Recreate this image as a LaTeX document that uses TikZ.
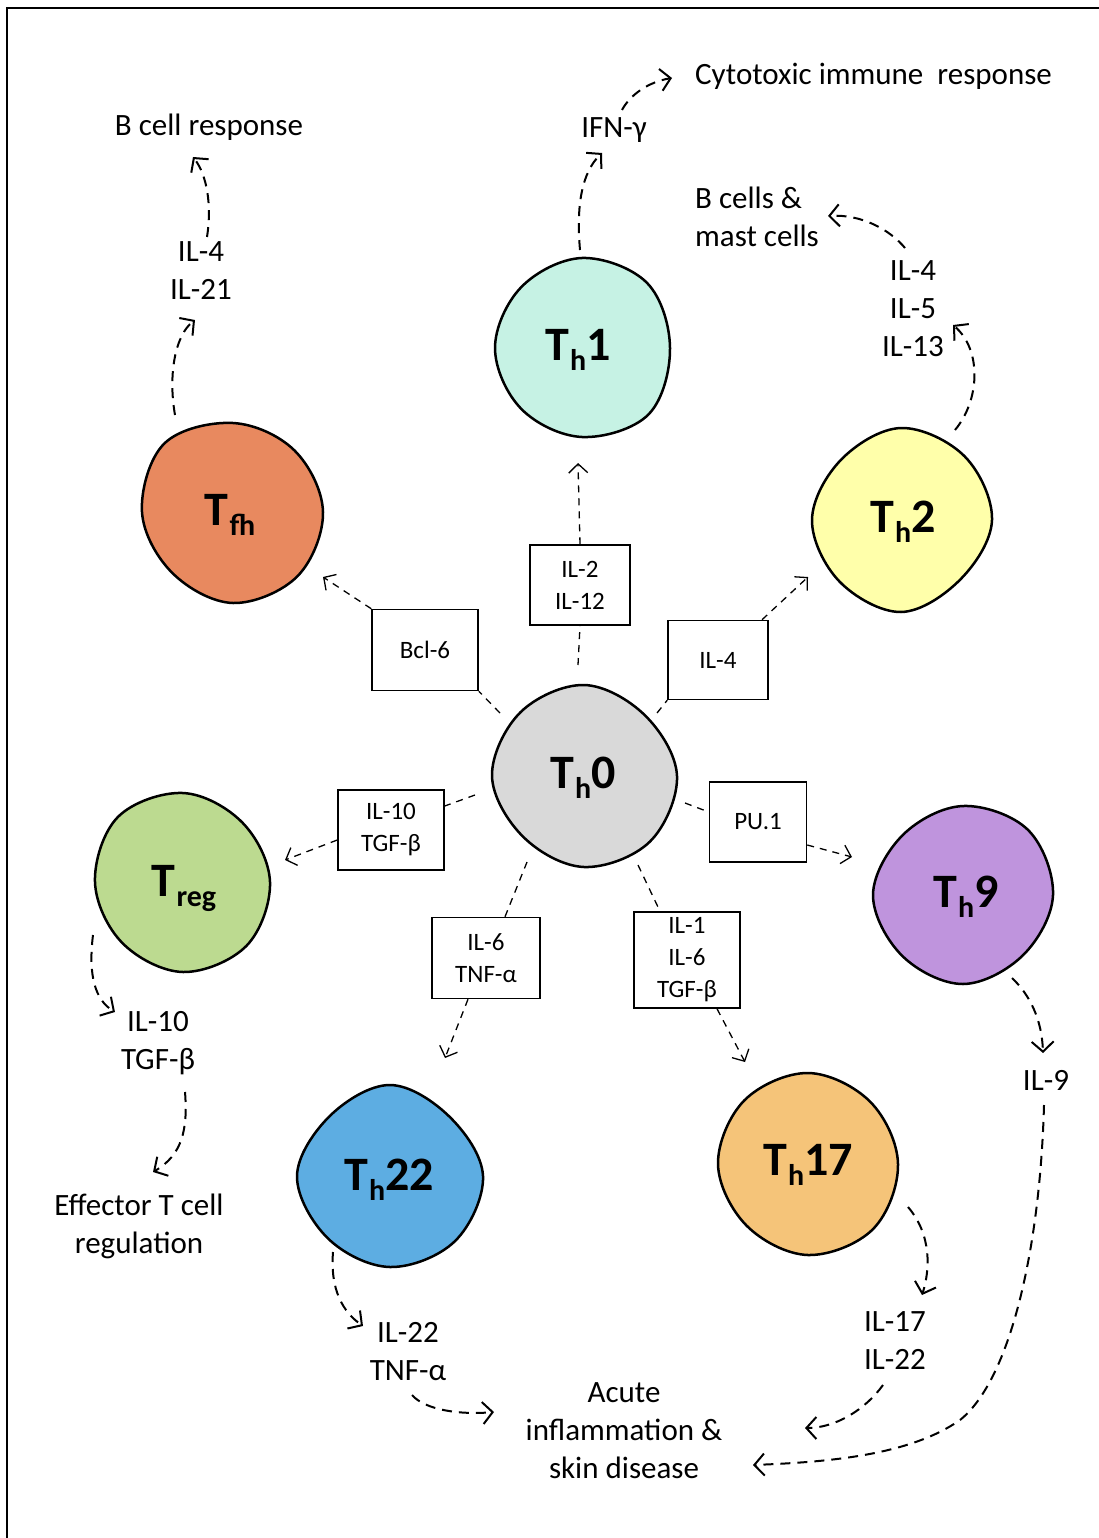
\documentclass[tikz,border=0pt]{standalone}
\usepackage{fontspec}
\setmainfont{Carlito}
\usetikzlibrary{arrows.meta}
\definecolor{cgray}{HTML}{D9D9D9}
\definecolor{cmint}{HTML}{C6F2E4}
\definecolor{cfh}{HTML}{E8895F}
\definecolor{cyel}{HTML}{FFFFAA}
\definecolor{cgreen}{HTML}{BCDA90}
\definecolor{cpurple}{HTML}{BF94DD}
\definecolor{cblue}{HTML}{5DADE2}
\definecolor{corange}{HTML}{F5C479}
\newcommand\csub[1]{\kern1pt\raisebox{-10pt}{\fontsize{30}{30}\selectfont #1}}
\tikzset{
  lbl/.style={font=\fontsize{31}{38}\selectfont, align=center, inner sep=0pt},
  bx/.style={draw, line width=1.5pt, font=\fontsize{25}{32}\selectfont, align=center, inner sep=0pt},
  cellt/.style={font=\fontsize{48}{48}\selectfont\bfseries, inner sep=0pt},
  dl/.style={dash pattern=on 7pt off 6pt, line width=1.3pt},
  ar/.style={dl, -{Straight Barb[length=9pt,width=19pt,line width=1.3pt]}},
  oar/.style={dash pattern=on 10pt off 7pt, line width=2pt, -{Straight Barb[length=10pt,width=22pt,line width=2pt]}},
  blob/.style={line width=2.5pt, draw=black}
}
% radii: E SE S SW W NW N NE (y axis points down)
\newcommand\blob[3]{%
  \def\pts{}%
  \foreach \r [count=\i from 0] in {#3} {\xdef\pts{\pts (\i*45:\r)}}%
  \filldraw[blob, fill=#2, shift={(#1)}] plot[smooth cycle, tension=0.6] coordinates {\pts};}
\begin{document}
\begin{tikzpicture}[x=1pt,y=-1pt]
\useasboundingbox (0,0) rectangle (1098,1538);
\fill[white] (0,0) rectangle (1098,1538);
\draw[line width=2.5pt] (7,1545) -- (7,8) -- (1105,8);

% cells
\blob{584,776}{cgray}{93,93,91,86,92,90,91,86}
\blob{582,348}{cmint}{88,94,89,86,87,86,90,92}
\blob{233,512}{cfh}{90,91,91,86,91,97,89,87}
\blob{901,520}{cyel}{91,84,92,87,89,85,92,90}
\blob{183,882}{cgreen}{87,90,90,86,88,92,89,84}
\blob{963,895}{cpurple}{90,85,89,86,90,85,89,92}
\blob{390,1176}{cblue}{93,92,91,88,93,85,91,84}
\blob{808,1164}{corange}{90,92,91,87,90,90,91,88}

\node[cellt] (th0) at (583,778) {T\csub{h}0};
\node[cellt] (th1) at (578,350) {T\csub{h}1};
\node[cellt] (tfh) at (230,515) {T\csub{fh}};
\node[cellt] (th2) at (903,522) {T\csub{h}2};
\node[cellt] (treg) at (184,888) {T\csub{reg}};
\node[cellt] (th9) at (966,897) {T\csub{h}9};
\node[cellt] (th22) at (389,1180) {T\csub{h}22};
\node[cellt] (th17) at (808,1165) {T\csub{h}17};

% boxes
\node[bx, minimum width=106pt, minimum height=81pt] (bcl) at (425,650) {Bcl-6};
\node[bx, minimum width=100pt, minimum height=80pt] (il212) at (580,585) {IL-2\\IL-12};
\node[bx, minimum width=100pt, minimum height=79pt] (il4b) at (718,660) {IL-4};
\node[bx, minimum width=106pt, minimum height=80pt] (il10b) at (391,830) {IL-10\\TGF-β};
\node[bx, minimum width=97pt, minimum height=80pt] (pu1) at (758,822) {PU.1};
\node[bx, minimum width=108pt, minimum height=81pt] (il6b) at (486,958) {IL-6\\TNF-α};
\node[bx, minimum width=106pt, minimum height=96pt] (il1b) at (687,960) {IL-1\\IL-6\\TGF-β};

% connector coordinates
\coordinate (s1) at (500,713);  \coordinate (e1) at (323,577);
\coordinate (s2) at (578,665);  \coordinate (e2) at (578,463);
\coordinate (s3) at (657,713);  \coordinate (e3) at (808,577);
\coordinate (s4) at (475,795);  \coordinate (e4) at (285,860);
\coordinate (s5) at (685,803);  \coordinate (e5) at (852,857);
\coordinate (s6) at (527,862);  \coordinate (e6) at (445,1058);
\coordinate (s7) at (638,865);  \coordinate (e7) at (745,1062);

\draw[dl] (s1) -- (bcl.south east);
\draw[ar] (bcl.north west) -- (e1);
\draw[dl] (s2) -- (il212.south);
\draw[ar] (il212.north) -- (e2);
\draw[dl] (s3) -- (il4b.south west);
\draw[ar] (il4b.north -| 762,0) -- (e3);
\draw[dl] (s4) -- (il10b.east |- 0,806);
\draw[ar] (il10b.west |- 0,840) -- (e4);
\draw[dl] (s5) -- (pu1.west |- 0,812);
\draw[ar] (pu1.east |- 0,845) -- (e5);
\draw[dl] (s6) -- (il6b.north -| 505,0);
\draw[ar] (il6b.south -| 468,0) -- (e6);
\draw[dl] (s7) -- (il1b.north -| 660,0);
\draw[ar] (il1b.south -| 717,0) -- (e7);

% outer labels
\node[lbl] (bresp) at (209,127) {B cell response};
\node[lbl] (il421) at (201,271) {IL-4\\IL-21};
\node[lbl] (ifn) at (614,130) {IFN-γ};
\node[lbl, anchor=west] (cyto) at (695,76) {Cytotoxic immune\ \ response};
\node[lbl, anchor=west, align=left] (bmast) at (695,217) {B cells \&\\mast cells};
\node[lbl] (il4513) at (913,309) {IL-4\\IL-5\\IL-13};
\node[lbl] (il10t) at (158,1043) {IL-10\\TGF-β};
\node[lbl] (eff) at (139,1226) {Effector T cell\\regulation};
\node[lbl] (il22t) at (408,1352) {IL-22\\TNF-α};
\node[lbl] (acute) at (624,1431) {Acute\\inflammation \&\\skin disease};
\node[lbl] (il1722) at (895,1341) {IL-17\\IL-22};
\node[lbl] (il9) at (1046,1080) {IL-9};

% output arrows
\coordinate (a1) at (175,415); \coordinate (b1) at (195,320);
\draw[oar] (a1) .. controls (168,375) and (175,335) .. (b1);
\coordinate (a2) at (207,237); \coordinate (b2) at (193,157);
\draw[oar] (a2) .. controls (212,205) and (207,175) .. (b2);
\coordinate (a3) at (580,250); \coordinate (b3) at (602,153);
\draw[oar] (a3) .. controls (576,205) and (582,172) .. (b3);
\coordinate (a4) at (622,110); \coordinate (b4) at (672,78);
\draw[oar] (a4) .. controls (630,95) and (648,82) .. (b4);
\coordinate (a5) at (955,430); \coordinate (b5) at (953,325);
\draw[oar] (a5) .. controls (980,400) and (982,350) .. (b5);
\coordinate (a6) at (905,248); \coordinate (b6) at (828,216);
\draw[oar] (a6) .. controls (890,230) and (862,214) .. (b6);
\coordinate (a7) at (93,935); \coordinate (b7) at (115,1012);
\draw[oar] (a7) .. controls (88,975) and (95,1000) .. (b7);
\coordinate (a8) at (185,1092); \coordinate (b8) at (153,1172);
\draw[oar] (a8) .. controls (188,1130) and (182,1155) .. (b8);
\coordinate (a9) at (333,1252); \coordinate (b9) at (363,1326);
\draw[oar] (a9) .. controls (330,1290) and (343,1312) .. (b9);
\coordinate (a10) at (412,1395); \coordinate (b10) at (494,1412);
\draw[oar] (a10) .. controls (425,1410) and (460,1415) .. (b10);
\coordinate (a11) at (908,1207); \coordinate (b11) at (922,1295);
\draw[oar] (a11) .. controls (932,1235) and (930,1270) .. (b11);
\coordinate (a12) at (883,1385); \coordinate (b12) at (805,1428);
\draw[oar] (a12) .. controls (865,1410) and (835,1428) .. (b12);
\coordinate (a13) at (1012,978); \coordinate (b13) at (1043,1053);
\draw[oar] (a13) .. controls (1030,995) and (1042,1020) .. (b13);
\coordinate (a14) at (1044,1105); \coordinate (m14) at (960,1420); \coordinate (b14) at (753,1465);
\draw[oar] (a14) .. controls (1040,1250) and (1010,1380) .. (m14) .. controls (910,1455) and (830,1462) .. (b14);
\end{tikzpicture}
\end{document}
